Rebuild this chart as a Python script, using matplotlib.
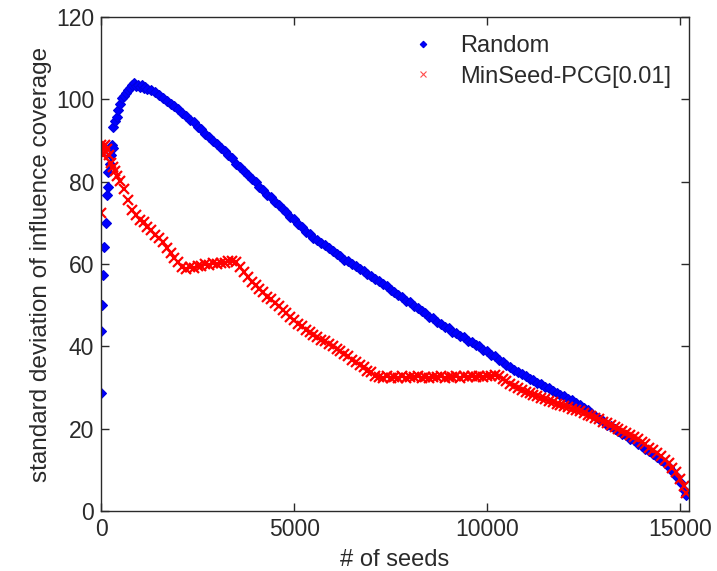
import matplotlib
matplotlib.use('Agg')
import matplotlib.pyplot as plt

plt.rcParams['font.family'] = ['Liberation Sans', 'DejaVu Sans']

grid_x = [2000, 2100, 2200, 2300, 2400, 2500, 2600, 2700, 2800, 2900,
          3000, 3100, 3200, 3300, 3400, 3500, 3600, 3700, 3800, 3900,
          4000, 4100, 4200, 4300, 4400, 4500, 4600, 4700, 4800, 4900,
          5000, 5100, 5200, 5300, 5400, 5500, 5600, 5700, 5800, 5900,
          6000, 6100, 6200, 6300, 6400, 6500, 6600, 6700, 6800, 6900,
          7000, 7100, 7200, 7300, 7400, 7500, 7600, 7700, 7800, 7900,
          8000, 8100, 8200, 8300, 8400, 8500, 8600, 8700, 8800, 8900,
          9000, 9100, 9200, 9300, 9400, 9500, 9600, 9700, 9800, 9900,
          10000, 10100, 10200, 10300, 10400, 10500, 10600, 10700, 10800, 10900,
          11000, 11100, 11200, 11300, 11400, 11500, 11600, 11700, 11800, 11900,
          12000, 12100, 12200, 12300, 12400, 12500, 12600, 12700, 12800, 12900,
          13000, 13100, 13200, 13300, 13400, 13500, 13600, 13700, 13800, 13900,
          14000, 14100, 14200, 14300, 14400, 14500, 14600, 14700, 14800, 14900,
          15000, 15100, 15160]

# Random
random_x0 = [1, 10, 20, 60, 85, 130, 150, 175, 190, 230, 260, 280, 300, 320,
             360, 400, 450, 500, 550, 600, 650, 700, 750, 800, 850, 900, 950,
             1000, 1050, 1100, 1150, 1200, 1300, 1400, 1500, 1600, 1700, 1800, 1900]
random_y0 = [28.7, 43.8, 50.0, 57.3, 64.2, 70.0, 76.8, 78.8, 82.4, 84.4, 86.5, 88.9, 88.2, 93.3,
             94.8, 95.8, 97.5, 99.0, 100.3, 100.8, 101.6, 102.3, 102.8, 103.5, 103.9, 103.2, 103.6,
             103.0, 103.4, 102.7, 103.1, 102.5, 102.2, 101.7, 101.0, 100.4, 99.7, 99.0, 98.3]
random_y = [97.8, 96.8, 96.1, 95.1, 94.5, 93.4, 92.7, 91.6, 90.9, 89.9,
            89.2, 88.1, 87.5, 86.4, 85.7, 84.3, 83.6, 82.5, 81.7, 80.6,
            79.9, 78.8, 78.0, 76.9, 76.2, 75.1, 74.4, 73.3, 72.6, 71.5,
            70.9, 69.8, 69.1, 67.9, 67.2, 66.3, 65.9, 65.1, 64.7, 63.8,
            63.3, 62.4, 61.9, 61.1, 60.7, 59.9, 59.5, 58.7, 58.4, 57.6,
            57.2, 56.4, 55.9, 55.1, 54.6, 53.8, 53.3, 52.5, 52.0, 51.1,
            50.7, 49.8, 49.4, 48.5, 48.1, 47.2, 46.8, 45.9, 45.5, 44.7,
            44.4, 43.6, 43.3, 42.5, 42.2, 41.4, 41.1, 40.3, 40.0, 39.2,
            38.8, 38.0, 37.6, 36.7, 36.3, 35.5, 35.1, 34.2, 33.8, 33.2,
            32.9, 32.1, 31.8, 31.1, 30.8, 30.2, 29.8, 29.1, 28.8, 28.2,
            27.9, 27.2, 26.9, 26.2, 25.8, 25.0, 24.5, 23.7, 23.1, 22.3,
            21.8, 21.0, 20.6, 19.9, 19.5, 18.8, 18.4, 17.6, 17.2, 16.4,
            15.9, 15.1, 14.6, 13.8, 13.2, 12.3, 11.6, 10.6, 9.7, 8.4,
            7.0, 5.2, 3.9]

# MinSeed-PCG[0.01]
pcg_x0 = [1, 5, 10, 30, 60, 100, 150, 200, 250, 300, 350, 400, 500, 600, 700,
          800, 900, 1000, 1100, 1200, 1300, 1400, 1500, 1600, 1700, 1800, 1900]
pcg_y0 = [72.3, 88.9, 87.5, 88.2, 86.5, 89.0, 88.0, 86.5, 84.5, 83.6, 82.5, 81.5, 80.2, 78.3, 75.6,
          73.2, 71.9, 70.6, 70.3, 69.1, 68.4, 67.0, 66.4, 65.3, 63.9, 62.8, 61.5]
pcg_y = [60.4, 59.3, 58.8, 59.2, 59.1, 59.6, 59.5, 59.9, 59.8, 60.2,
         60.0, 60.3, 60.3, 60.7, 60.8, 60.4, 59.3, 58.1, 56.8, 55.7,
         55.0, 53.9, 53.1, 52.1, 51.5, 50.6, 49.9, 48.8, 48.1, 47.1,
         46.4, 45.5, 45.0, 44.0, 43.5, 42.7, 42.3, 41.5, 41.2, 40.5,
         40.1, 39.4, 39.0, 38.2, 37.6, 36.7, 36.2, 35.4, 34.9, 34.0,
         33.7, 32.9, 32.6, 32.4, 32.7, 32.3, 32.6, 32.4, 32.7, 32.3,
         32.6, 32.5, 32.7, 32.4, 32.6, 32.3, 32.6, 32.5, 32.8, 32.4,
         32.6, 32.5, 32.7, 32.4, 32.8, 32.5, 32.7, 32.6, 32.9, 32.6,
         32.9, 32.7, 33.0, 32.7, 32.2, 31.6, 30.9, 30.4, 29.8, 29.4,
         28.9, 28.6, 28.1, 27.9, 27.4, 27.2, 26.7, 26.5, 26.0, 25.8,
         25.4, 25.2, 24.8, 24.6, 24.2, 23.9, 23.4, 23.1, 22.6, 22.3,
         21.7, 21.4, 20.8, 20.5, 19.9, 19.5, 18.9, 18.5, 17.9, 17.4,
         16.7, 16.2, 15.4, 14.8, 14.0, 13.3, 12.4, 11.6, 10.5, 9.4,
         7.8, 6.0, 4.4]

fig = plt.figure(figsize=(7.17, 5.71), dpi=100)
ax = fig.add_axes([0.141, 0.105, 0.820, 0.865])

ax.plot(random_x0 + grid_x, random_y0 + random_y, linestyle='none', marker='D',
        markersize=5.5, color='#0000ff', markeredgecolor='#0000e0',
        markeredgewidth=0.8, label='Random')
ax.plot(pcg_x0 + grid_x, pcg_y0 + pcg_y, linestyle='none', marker='x',
        markersize=6.5, color='#ff0000', markeredgewidth=1.6, label='MinSeed-PCG[0.01]')

ax.set_xlim(0, 15230)
ax.set_ylim(0, 120)
ax.set_xticks([0, 5000, 10000, 15000])
ax.set_yticks([0, 20, 40, 60, 80, 100, 120])
ax.tick_params(direction='in', length=6, width=1, top=True, right=True,
               labelsize=16.5, colors='#2a2a2a', pad=5)
for sp in ax.spines.values():
    sp.set_color('#2a2a2a')
    sp.set_linewidth(1)

ax.set_xlabel('# of seeds', fontsize=17, color='#2a2a2a', labelpad=6)
ax.set_ylabel('standard deviation of influence coverage', fontsize=17.5,
              color='#2a2a2a', labelpad=3)

leg = ax.legend(loc='upper right', frameon=False, fontsize=17, markerscale=0.6,
                handlelength=1.2, handletextpad=1.0, labelspacing=0.37,
                borderaxespad=0.3, borderpad=0.45)
for t in leg.get_texts():
    t.set_color('#2a2a2a')
leg.legend_handles[1].set_markeredgewidth(0.8)
leg.legend_handles[1].set_alpha(0.7)

fig.savefig('out.png', dpi=100)
